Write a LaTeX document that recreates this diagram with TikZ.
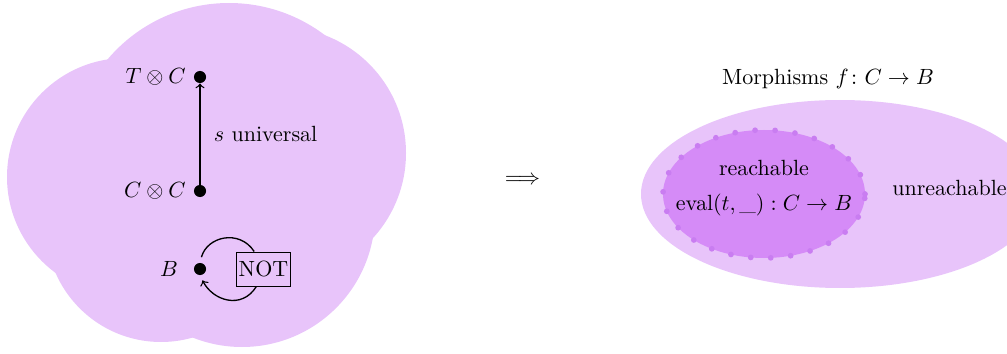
\documentclass[tikz,border=0pt]{standalone}
\usepackage{amssymb}
\usepackage{mathtools}
\usetikzlibrary{arrows,calc}

\definecolor{cloudlilac}{HTML}{E8C4FA}
\definecolor{reachlilac}{HTML}{D58BF7}
\definecolor{dotlilac}{HTML}{C97DF1}

\tikzset{
	bullet/.style={circle, fill=black, inner sep=0pt, minimum size=5.5pt},
	gatebox/.style={draw, inner xsep=1pt, minimum height=15.5pt}
}

\begin{document}
\begin{tikzpicture}[x=0.4545pt,y=0.4545pt]
			\useasboundingbox (0,0) rectangle (1007,-354);
			\fill[cloudlilac](229,-162) circle(159);
			\fill[cloudlilac](280,-153) circle(126);
			\fill[cloudlilac](242,-214) circle(133);
			\fill[cloudlilac](161,-227) circle(115);
			\fill[cloudlilac](126,-177) circle(119);
			\node[bullet] (tc) at (200,-77) {};
			\node[bullet] (cc) at (200,-191) {};
			\node[bullet] (b) at (200,-269) {};
			\node[left] (tclabel) at (tc.west) {$T\otimes C$};
			\node[left] (cclabel) at (cc.west) {$C\otimes C$};
			\node[left=3.5pt] (blabel) at (b.west) {$B$};
			\draw[semithick, ->] (cc) -- (tc) node[midway, right=2.7pt] (univ) {$s$ universal};
			\node[gatebox] (notgate) at (263.5,-269) {NOT};
			\draw[semithick, shorten <=2.5pt] (b.north) to[out=75,in=123,looseness=1.25] ($(notgate.north west)!0.33!(notgate.north east)$);
			\draw[semithick, ->, shorten >=2.5pt] ($(notgate.south west)!0.37!(notgate.south east)$) to[out=238,in=-63,looseness=1.25] (b.south);
			\node (implies) at (522.5,-180) {$\Longrightarrow$};
			\fill[cloudlilac](840,-194) ellipse[x radius=199, y radius=94];
			\fill[reachlilac](764,-194) ellipse[x radius=101, y radius=64];
			\draw[dotlilac, line width=2.6pt, line cap=round, dash pattern=on 0pt off 9.1pt](764,-194) ellipse[x radius=101, y radius=64];
			\node (morph) at (828,-79) {Morphisms $f\colon C\to B$};
			\node (reach) at (764,-168) {reachable};
			\node (evalt) at (764,-205) {$\mathrm{eval}(t,\_) : C\to B$};
			\node (unreach) at (949.5,-188) {unreachable};
		\end{tikzpicture}
\end{document}
